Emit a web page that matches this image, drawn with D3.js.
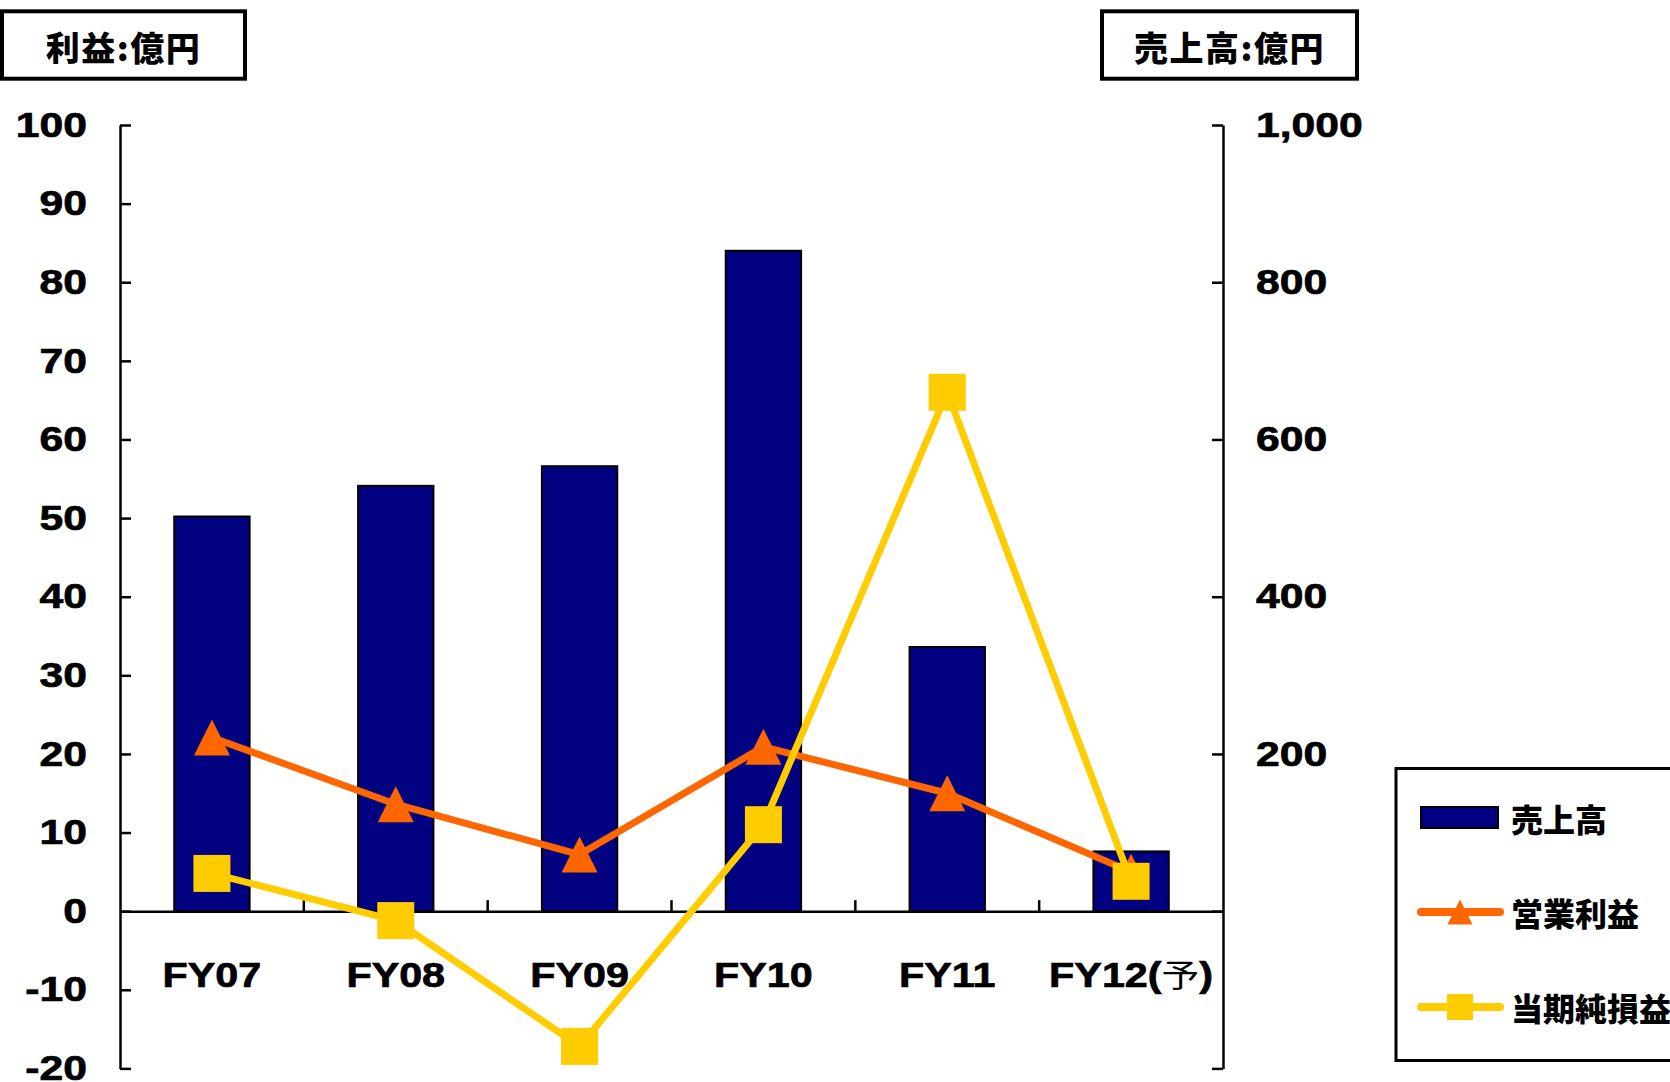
<!DOCTYPE html>
<html><head><meta charset="utf-8">
<script src="https://cdn.jsdelivr.net/npm/d3@7"></script>
<style>
html,body{margin:0;padding:0;background:#fff;}
svg{display:block;}
.lat{font-family:"Liberation Sans",Arial,sans-serif;font-weight:bold;font-size:35px;fill:#000;stroke:#000;stroke-width:0.7px;}
.cjk{font-family:"Noto Sans CJK JP","Noto Sans CJK SC",sans-serif;font-weight:900;fill:#000;}
</style></head>
<body>
<script>
const categories = ["FY07","FY08","FY09","FY10","FY11","FY12"];
const categorySuffix = ["","","","","","(予)"];
const sales = [502, 541, 566, 840, 336, 76];
const operatingProfit = [22.1, 13.6, 7.2, 20.9, 15.0, 5.0];
const netIncome = [4.8, -1.2, -17.2, 11.0, 66.0, 3.8];
const leftTicks = [100,90,80,70,60,50,40,30,20,10,0,-10,-20];
const rightTicks = [1000,800,600,400,200,0,-200];
const rightLabelled = [1000,800,600,400,200];
const seriesNames = ["売上高","営業利益","当期純損益"];
const leftTitle = "利益:億円";
const rightTitle = "売上高:億円";

const W = 1670, H = 1082;
const NAVY = "#000080", ORANGE = "#FF6600", YELLOW = "#FFCC00";
const SX = 1.22;

const svg = d3.select("body").append("svg").attr("width", W).attr("height", H);

const x = d3.scaleBand().domain(categories).range([120, 1223]).padding(0);
const yL = d3.scaleLinear().domain([-20, 100]).range([1068.4, 125]);
const yR = d3.scaleLinear().domain([-200, 1000]).range([1068.4, 125]);
const cx = c => x(c) + x.bandwidth() / 2;
const barW = x.bandwidth() * 0.41;

function stretch(sel, sx) {
  sel.each(function() {
    const t = d3.select(this);
    const tx = +t.attr("x") || 0, ty = +t.attr("y") || 0;
    t.attr("x", 0).attr("y", 0).attr("transform", `translate(${tx},${ty}) scale(${sx},1)`);
  });
}

// Bars
svg.append("g").selectAll("rect").data(categories).join("rect")
  .attr("x", (c) => cx(c) - barW / 2)
  .attr("y", (c, i) => yR(sales[i]))
  .attr("width", barW)
  .attr("height", (c, i) => yR(0) - yR(sales[i]))
  .attr("fill", NAVY).attr("stroke", "#000").attr("stroke-width", 2);

// Left axis
const gL = svg.append("g").attr("transform", `translate(${x.range()[0]},0)`)
  .call(d3.axisLeft(yL).tickValues(leftTicks).tickSizeInner(-11).tickSizeOuter(0).tickPadding(33).tickFormat(d => String(d)));
gL.select(".domain").attr("stroke-width", 2.5);
gL.selectAll(".tick line").attr("stroke-width", 2.5);
gL.selectAll("text").attr("class", "lat");
stretch(gL.selectAll("text"), SX);

// Right axis
const gR = svg.append("g").attr("transform", `translate(${x.range()[1]},0)`)
  .call(d3.axisRight(yR).tickValues(rightTicks).tickSizeInner(-11).tickSizeOuter(0).tickPadding(33)
    .tickFormat(d => rightLabelled.includes(d) ? d3.format(",")(d) : ""));
gR.select(".domain").attr("stroke-width", 2.5);
gR.selectAll(".tick line").attr("stroke-width", 2.5);
gR.selectAll("text").attr("class", "lat");
stretch(gR.selectAll("text"), SX);

// X axis
const gX = svg.append("g").attr("transform", `translate(0,${yL(0)})`)
  .call(d3.axisBottom(x).tickSize(0).tickPadding(0));
gX.select(".domain").attr("stroke-width", 2.5);
gX.selectAll("text").attr("class", "lat").attr("dy", null).attr("y", 76)
  .each(function(d) {
    const t = d3.select(this);
    const suf = categorySuffix[categories.indexOf(d)];
    if (suf) {
      t.text(d);
      t.append("tspan").text("(");
      t.append("tspan").text(suf.slice(1, -1)).attr("font-family", "Noto Sans CJK JP").attr("font-weight", "normal").attr("stroke-width", 0).attr("font-size", 32);
      t.append("tspan").text(")");
    }
  });
stretch(gX.selectAll("text"), 1.18);
// category boundary ticks
svg.append("g").selectAll("line").data(categories.slice(1)).join("line")
  .attr("x1", c => x(c)).attr("x2", c => x(c))
  .attr("y1", yL(0)).attr("y2", yL(0) - 11)
  .attr("stroke", "#000").attr("stroke-width", 2.5);

// Lines
const tri = s => `M0,${-s/2}L${s/2},${s/2}L${-s/2},${s/2}Z`;
function series(vals, color, marker) {
  const line = d3.line().x((d, i) => cx(categories[i])).y(d => yL(d));
  const g = svg.append("g");
  g.append("path").attr("d", line(vals)).attr("fill", "none").attr("stroke", color)
    .attr("stroke-width", 7).attr("stroke-linejoin", "round");
  const m = g.selectAll(".m").data(vals).join("g")
    .attr("transform", (d, i) => `translate(${cx(categories[i])},${yL(d)})`);
  if (marker === "tri") m.append("path").attr("d", tri(36)).attr("fill", color);
  else m.append("rect").attr("x", -18.5).attr("y", -18.5).attr("width", 37).attr("height", 37).attr("fill", color);
}
series(operatingProfit, ORANGE, "tri");
series(netIncome, YELLOW, "sq");

// Title boxes
function titleBox(x0, w, txt) {
  svg.append("rect").attr("x", x0).attr("y", 11.3).attr("width", w).attr("height", 67.4)
    .attr("fill", "#fff").attr("stroke", "#000").attr("stroke-width", 4);
  svg.append("text").attr("class", "cjk").attr("font-size", 34).attr("letter-spacing", 1.5)
    .attr("x", x0 + w / 2).attr("y", 46).attr("text-anchor", "middle").attr("dominant-baseline", "central")
    .text(txt);
}
titleBox(2, 243, leftTitle);
titleBox(1102, 255, rightTitle);

// Legend
const lg = svg.append("g");
lg.append("rect").attr("x", 1396).attr("y", 768.5).attr("width", 320).attr("height", 292)
  .attr("fill", "#fff").attr("stroke", "#000").attr("stroke-width", 3);
const ly = [818, 912, 1007];
lg.append("rect").attr("x", 1421).attr("y", 807).attr("width", 77).attr("height", 21)
  .attr("fill", NAVY).attr("stroke", "#000").attr("stroke-width", 2);
[[ORANGE, "tri"], [YELLOW, "sq"]].forEach(([c, m], k) => {
  const yy = ly[k + 1];
  lg.append("line").attr("x1", 1421).attr("x2", 1500).attr("y1", yy).attr("y2", yy)
    .attr("stroke", c).attr("stroke-width", 8).attr("stroke-linecap", "round");
  if (m === "tri") lg.append("path").attr("d", tri(25)).attr("transform", `translate(1460,${yy})`).attr("fill", c);
  else lg.append("rect").attr("x", 1447).attr("y", yy - 13).attr("width", 26).attr("height", 26).attr("fill", c);
});
lg.selectAll(".lt").data(seriesNames).join("text").attr("class", "cjk").attr("font-size", 32)
  .attr("x", 1511).attr("y", (d, i) => ly[i]).attr("dominant-baseline", "central").text(d => d);
</script>
</body></html>
